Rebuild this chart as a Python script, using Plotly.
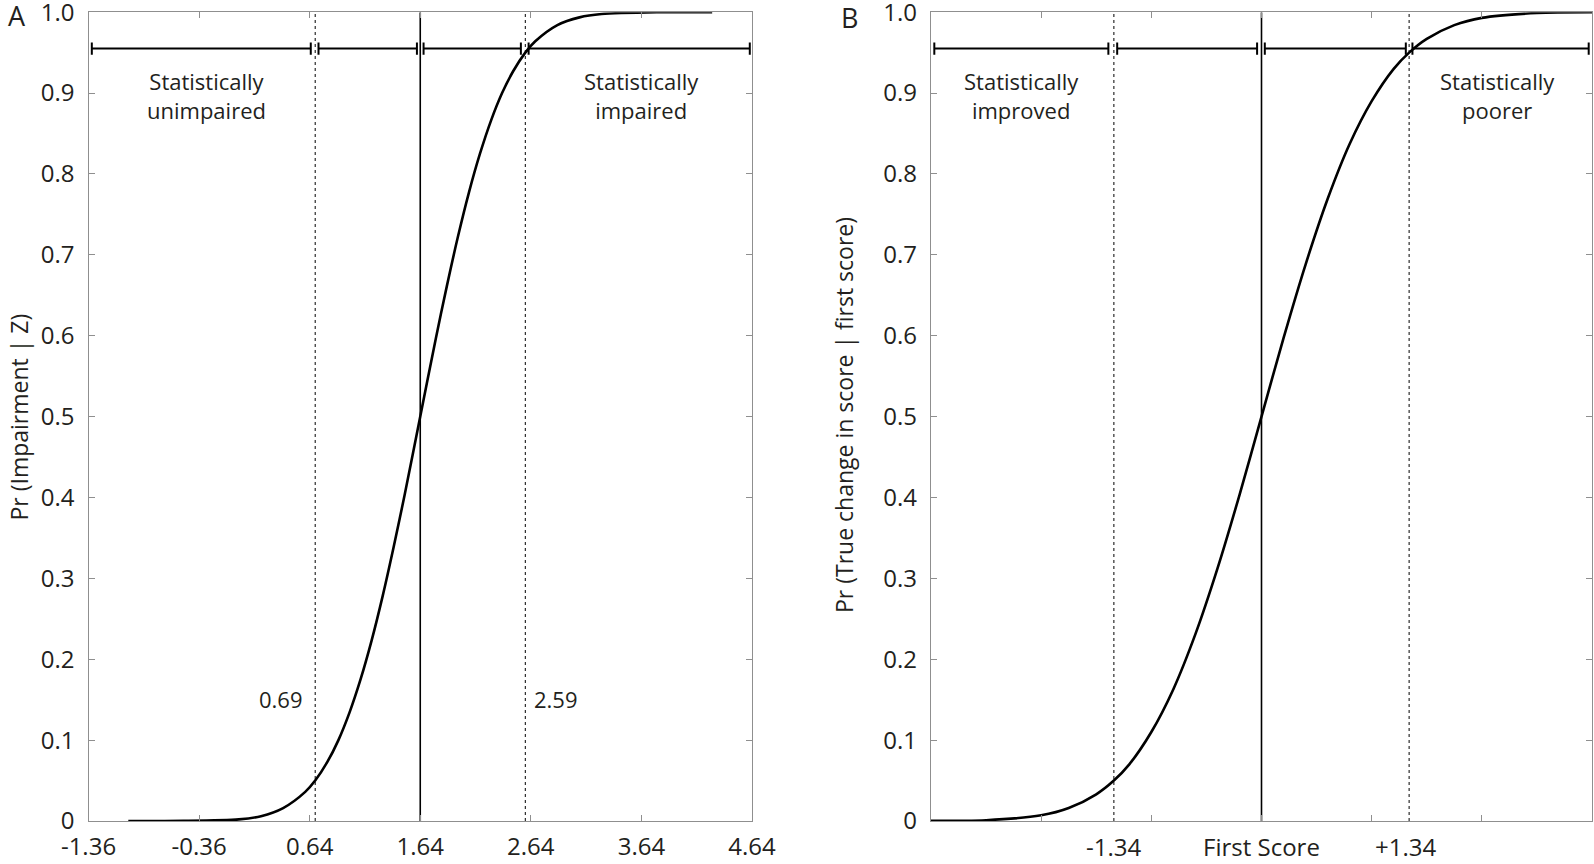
import plotly.graph_objects as go

# ---------------- Data ----------------
# Panel A: Pr(Impairment | Z) curve
a_x = [-1.00, -0.50, 0.00, 0.20, 0.40, 0.60, 0.69, 0.80, 0.90, 1.00, 1.10, 1.20, 1.30, 1.40, 1.50,
       1.64, 1.78, 1.88, 1.98, 2.08, 2.18, 2.28, 2.38, 2.48, 2.59, 2.68, 2.88, 3.08, 3.28, 3.78, 4.28]
a_y = [0.000, 0.0001, 0.002, 0.006, 0.016, 0.036, 0.050, 0.073, 0.100, 0.134, 0.175, 0.223, 0.278, 0.339, 0.404,
       0.500, 0.596, 0.661, 0.722, 0.777, 0.825, 0.866, 0.900, 0.927, 0.950, 0.964, 0.984, 0.9936, 0.9977, 0.9999, 1.000]
a_xticks = [-1.36, -0.36, 0.64, 1.64, 2.64, 3.64, 4.64]
a_xticklabels = ["-1.36", "-0.36", "0.64", "1.64", "2.64", "3.64", "4.64"]
a_center = 1.64
a_cutoffs = [0.69, 2.59]
a_cutoff_labels = ["0.69", "2.59"]
a_seg_start = [-1.33, 0.72, 1.67, 2.62]
a_seg_end = [0.65, 1.61, 2.55, 4.62]

# Panel B: Pr(True change in score | first score)
b_x = [-3.00, -2.50, -2.00, -1.75, -1.50, -1.34, -1.20, -1.00, -0.80, -0.60, -0.40, -0.20, 0.00,
       0.20, 0.40, 0.60, 0.80, 1.00, 1.20, 1.34, 1.50, 1.75, 2.00, 2.50, 3.00]
b_y = [0.0001, 0.001, 0.007, 0.016, 0.033, 0.050, 0.070, 0.110, 0.163, 0.231, 0.312, 0.403, 0.500,
       0.597, 0.688, 0.769, 0.837, 0.890, 0.930, 0.950, 0.967, 0.984, 0.993, 0.999, 0.9999]
b_xticks = [-2, -1, 0, 1, 2]
b_center = 0.0
b_cutoffs = [-1.34, 1.34]
b_xlabels_pos = [-1.34, 0.0, 1.31]
b_xlabels = ["-1.34", "First Score", "+1.34"]
b_seg_start = [-2.97, -1.31, 0.03, 1.37]
b_seg_end = [-1.39, -0.04, 1.31, 2.97]

seg_y = 0.955
y_ticks = [0, 0.1, 0.2, 0.3, 0.4, 0.5, 0.6, 0.7, 0.8, 0.9, 1.0]
y_ticklabels = ["0", "0.1", "0.2", "0.3", "0.4", "0.5", "0.6", "0.7", "0.8", "0.9", "1.0"]

# ---------------- Style ----------------
W, H = 1594, 864
FONT = "Open Sans"
TXT = "#231f20"
AXC = "#8f8f8f"
CAP = 0.0075

def px(v, total):
    return v / total

a_dom = [px(88.5, W), px(752, W)]
b_dom = [px(931, W), px(1592, W)]
y_dom = [1 - px(821, H), 1 - px(12.2, H)]

fig = go.Figure()

def add_panel(xa, ya, cx, cy, center, cutoffs, s0, s1):
    fig.add_trace(go.Scatter(x=cx, y=cy, mode="lines", line=dict(color="black", width=2.6, shape="spline", smoothing=0.8),
                             xaxis=xa, yaxis=ya, hoverinfo="skip", showlegend=False, cliponaxis=False))
    fig.add_trace(go.Scatter(x=[center, center], y=[0, 1], mode="lines", line=dict(color="black", width=1.6),
                             xaxis=xa, yaxis=ya, hoverinfo="skip", showlegend=False))
    for c in cutoffs:
        fig.add_trace(go.Scatter(x=[c, c], y=[0, 1], mode="lines", line=dict(color="black", width=1, dash="dot"),
                                 xaxis=xa, yaxis=ya, hoverinfo="skip", showlegend=False))
    xs, ys = [], []
    for a, b in zip(s0, s1):
        xs += [a, b, None, a, a, None, b, b, None]
        ys += [seg_y, seg_y, None, seg_y - CAP, seg_y + CAP, None, seg_y - CAP, seg_y + CAP, None]
    fig.add_trace(go.Scatter(x=xs, y=ys, mode="lines", line=dict(color="black", width=2),
                             xaxis=xa, yaxis=ya, hoverinfo="skip", showlegend=False))

add_panel("x", "y", a_x, a_y, a_center, a_cutoffs, a_seg_start, a_seg_end)
add_panel("x2", "y2", b_x, b_y, b_center, b_cutoffs, b_seg_start, b_seg_end)

axis_common = dict(showgrid=False, zeroline=False, showline=True, linecolor=AXC, linewidth=1.4,
                   mirror="ticks", ticks="inside", ticklen=6, tickcolor=AXC, tickwidth=1.2,
                   automargin=False, ticklabeloverflow="allow",
                   tickfont=dict(family=FONT, size=24, color=TXT))

fig.update_layout(
    width=W, height=H, margin=dict(l=0, r=0, t=0, b=0, autoexpand=False),
    paper_bgcolor="white", plot_bgcolor="white",
    xaxis=dict(domain=a_dom, range=[-1.36, 4.64], tickvals=a_xticks, ticktext=a_xticklabels,
               anchor="y", ticklabelstandoff=4, **axis_common),
    yaxis=dict(domain=y_dom, range=[0, 1], tickvals=y_ticks, ticktext=y_ticklabels,
               anchor="x", ticklabelstandoff=8, **axis_common),
    xaxis2=dict(domain=b_dom, range=[-3, 3], tickvals=b_xticks, ticktext=[""] * len(b_xticks),
                anchor="y2", **axis_common),
    yaxis2=dict(domain=y_dom, range=[0, 1], tickvals=y_ticks, ticktext=y_ticklabels,
                anchor="x2", ticklabelstandoff=8, **axis_common),
)

ann = []
f22 = dict(family=FONT, size=22, color=TXT)
ann.append(dict(x=-0.29, y=0.897, xref="x", yref="y", text="Statistically<br>unimpaired", showarrow=False, font=f22))
ann.append(dict(x=3.64, y=0.897, xref="x", yref="y", text="Statistically<br>impaired", showarrow=False, font=f22))
ann.append(dict(x=-2.18, y=0.897, xref="x2", yref="y2", text="Statistically<br>improved", showarrow=False, font=f22))
ann.append(dict(x=2.14, y=0.897, xref="x2", yref="y2", text="Statistically<br>poorer", showarrow=False, font=f22))
ann.append(dict(x=0.60, y=0.151, xref="x", yref="y", text=a_cutoff_labels[0], showarrow=False, xanchor="right", font=f22))
ann.append(dict(x=2.65, y=0.151, xref="x", yref="y", text=a_cutoff_labels[1], showarrow=False, xanchor="left", font=f22))
for xv, t in zip(b_xlabels_pos, b_xlabels):
    ann.append(dict(x=xv, y=1 - px(846, H), xref="x2", yref="paper", text=t, showarrow=False,
                    xanchor="center", yanchor="middle", font=dict(family=FONT, size=24, color=TXT)))
ann.append(dict(x=px(18.5, W), y=1 - px(417, H), xref="paper", yref="paper", text="Pr (Impairment | Z)",
                textangle=-90, showarrow=False, xanchor="center", yanchor="middle",
                font=dict(family=FONT, size=23, color=TXT)))
ann.append(dict(x=px(844, W), y=1 - px(415, H), xref="paper", yref="paper",
                text="Pr (True change in score | first score)",
                textangle=-90, showarrow=False, xanchor="center", yanchor="middle",
                font=dict(family=FONT, size=23, color=TXT)))
ann.append(dict(x=px(17, W), y=1 - px(16, H), xref="paper", yref="paper", text="A", showarrow=False,
                xanchor="center", yanchor="middle", font=dict(family=FONT, size=27, color=TXT)))
ann.append(dict(x=px(849, W), y=1 - px(17, H), xref="paper", yref="paper", text="B", showarrow=False,
                xanchor="center", yanchor="middle", font=dict(family=FONT, size=27, color=TXT)))
fig.update_layout(annotations=ann)

fig.write_html("out.html", config={"displayModeBar": False},
               post_script="document.body.style.margin='0';")
